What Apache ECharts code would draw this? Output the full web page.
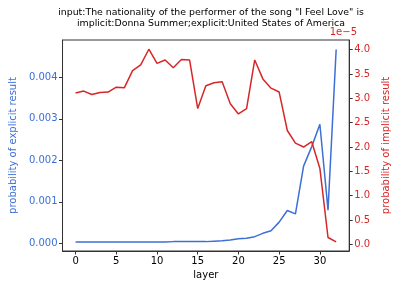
<!DOCTYPE html>
<html><head><meta charset="utf-8">
<script src="https://cdn.jsdelivr.net/npm/echarts@6/dist/echarts.min.js"></script>
<style>html,body{margin:0;padding:0;background:#fff}#c{width:399px;height:287px}</style>
</head><body><div id="c"></div>
<script>
const layers = [0,1,2,3,4,5,6,7,8,9,10,11,12,13,14,15,16,17,18,19,20,21,22,23,24,25,26,27,28,29,30,31,32];
const explicitProb = [0.00003,0.00003,0.00003,0.00003,0.00003,0.00003,0.00003,0.00003,0.00003,0.00003,0.00003,0.00003,0.00004,0.00004,0.00004,0.00004,0.00004,0.00005,0.00006,0.00008,0.00011,0.00012,0.00016,0.00024,0.00030,0.00051,0.00079,0.00071,0.00186,0.00233,0.00287,0.00080,0.00467];
const implicitProb = [3.11,3.15,3.08,3.12,3.13,3.23,3.22,3.57,3.69,4.01,3.72,3.79,3.63,3.80,3.79,2.79,3.26,3.32,3.34,2.89,2.68,2.79,3.79,3.40,3.21,3.13,2.34,2.08,2.00,2.11,1.56,0.14,0.05];
const xTicks = [0,5,10,15,20,25,30];
const leftTicks = [0,0.001,0.002,0.003,0.004];
const rightTicks = [0,0.5,1,1.5,2,2.5,3,3.5,4];
const titleText = 'input:The nationality of the performer of the song "I Feel Love" is\nimplicit:Donna Summer;explicit:United States of America';

const BLUE = '#3d6fd6', RED = '#d62728', FONT = 'DejaVu Sans';
const chart = echarts.init(document.getElementById('c'), null, {renderer:'canvas'});
chart.setOption({
  animation:false,
  title:{text:titleText,left:206,top:2,textAlign:'center',textStyle:{fontFamily:FONT,fontSize:9.4,fontWeight:'normal',color:'#000',lineHeight:11}},
  graphic:[{type:'text',right:42,top:27,style:{text:'1e\u22125',fill:RED,font:'10px DejaVu Sans',textAlign:'right'}}],
  grid:{left:53,right:42,top:40,bottom:36,show:true,borderColor:'#333',borderWidth:1},
  xAxis:{type:'value',min:-1.6,max:33.6,name:'layer',nameLocation:'middle',nameGap:19,
    nameTextStyle:{fontFamily:FONT,fontSize:10,color:'#000'},
    axisLine:{onZero:false,lineStyle:{color:'#333'}},
    axisTick:{show:true,length:3.5,customValues:xTicks,lineStyle:{color:'#333'}},
    axisLabel:{customValues:xTicks,fontFamily:FONT,fontSize:10,color:'#000',margin:5},
    splitLine:{show:false}},
  yAxis:[
    {type:'value',min:-0.000186,max:0.0049,position:'left',name:'probability of explicit result',nameLocation:'middle',nameGap:40,
      nameTextStyle:{fontFamily:FONT,fontSize:10,color:BLUE},
      axisLine:{show:true,onZero:false,lineStyle:{color:'#333'}},
      axisTick:{show:true,length:3.5,customValues:leftTicks,lineStyle:{color:'#333'}},
      axisLabel:{customValues:leftTicks,formatter:v=>v.toFixed(3),fontFamily:FONT,fontSize:10,color:BLUE,margin:5},
      splitLine:{show:false}},
    {type:'value',min:-0.138,max:4.2,position:'right',name:'probability of implicit result',nameLocation:'middle',nameGap:27,nameRotate:90,
      nameTextStyle:{fontFamily:FONT,fontSize:10,color:RED},
      axisLine:{show:true,onZero:false,lineStyle:{color:'#333'}},
      axisTick:{show:true,length:3.5,customValues:rightTicks,lineStyle:{color:'#333'}},
      axisLabel:{customValues:rightTicks,formatter:v=>v.toFixed(1),fontFamily:FONT,fontSize:10,color:RED,margin:5},
      splitLine:{show:false}}
  ],
  series:[
    {type:'line',yAxisIndex:0,data:layers.map((l,i)=>[l,explicitProb[i]]),showSymbol:false,lineStyle:{color:BLUE,width:1.5},itemStyle:{color:BLUE}},
    {type:'line',yAxisIndex:1,data:layers.map((l,i)=>[l,implicitProb[i]]),showSymbol:false,lineStyle:{color:RED,width:1.5},itemStyle:{color:RED}}
  ]
});
</script></body></html>
